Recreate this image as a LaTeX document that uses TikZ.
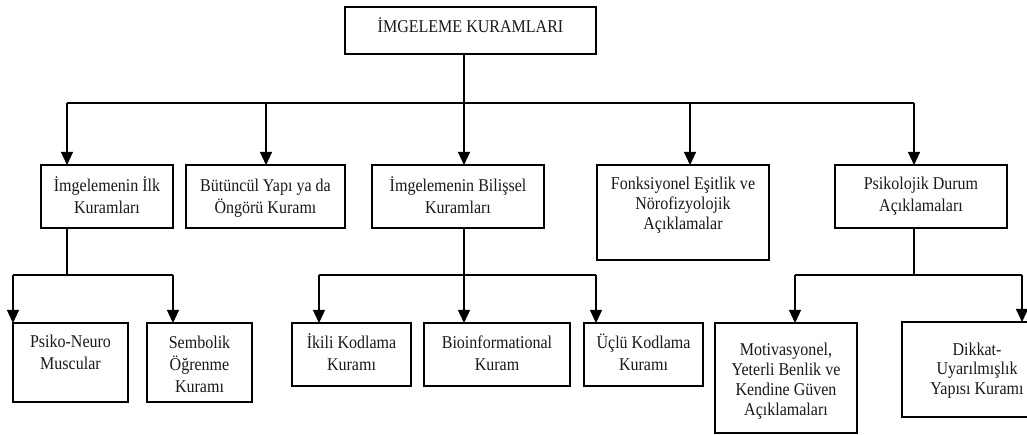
\documentclass[tikz,border=0pt]{standalone}
\usepackage{fontspec}
\setmainfont[FakeStretch=0.89]{Liberation Serif}
\usetikzlibrary{arrows.meta}
\newcommand{\bt}[5]{\parbox[c][#2pt][t]{#1pt}{\centering\fontsize{18}{#4}\selectfont\rule{0pt}{#3pt}#5}}
\tikzset{
  bx/.style={draw=black, line width=1.2pt, inner sep=0pt, outer sep=0pt, anchor=north west, text=black!90},
  ln/.style={draw=black, line width=1.2pt},
  arr/.style={ln, -{Triangle[width=12pt,length=13pt]}}
}
\begin{document}
\begin{tikzpicture}[x=1pt,y=-1pt]
\useasboundingbox (0,0) rectangle (1027,435);
\clip (0,0) rectangle (1027,435);
\fill[white] (0,0) rectangle (1027,435);
% boxes
\node[bx] (top) at (345,7) {\bt{251}{47}{26}{21.5}{İMGELEME KURAMLARI}};
\node[bx] (A) at (41,165) {\bt{132}{63}{27}{21.5}{İmgelemenin İlk\\Kuramları}};
\node[bx] (B) at (186,165) {\bt{159}{63}{27}{21.5}{Bütüncül Yapı ya da\\Öngörü Kuramı}};
\node[bx] (C) at (372,165) {\bt{172}{63}{27}{21.5}{İmgelemenin Bilişsel\\Kuramları}};
\node[bx] (D) at (597,165) {\bt{172}{95}{25}{20}{Fonksiyonel Eşitlik ve\\Nörofizyolojik\\Açıklamalar}};
\node[bx] (E) at (835,165) {\bt{172}{63}{25}{21.5}{Psikolojik Durum\\Açıklamaları}};
\node[bx] (F) at (13,323) {\bt{115}{79}{24}{22}{Psiko-Neuro\\Muscular}};
\node[bx] (G) at (147,323) {\bt{105}{79}{25}{22}{Sembolik\\Öğrenme\\Kuramı}};
\node[bx] (H) at (292,323) {\bt{119}{63}{25}{22}{İkili Kodlama\\Kuramı}};
\node[bx] (I) at (424,323) {\bt{146}{63}{25}{22}{Bioinformational\\Kuram}};
\node[bx] (J) at (584,323) {\bt{119}{63}{25}{22}{Üçlü Kodlama\\Kuramı}};
\node[bx] (K) at (715,323) {\bt{142}{110}{32}{20}{Motivasyonel,\\Yeterli Benlik ve\\Kendine Güven\\Açıklamaları}};
\node[bx] (L) at (902,322) {\bt{150}{95}{33}{19.5}{Dikkat-\\Uyarılmışlık\\Yapısı Kuramı}};
% level 1 bus
\coordinate (bA) at (67,103);
\coordinate (bB) at (266,103);
\coordinate (bC) at (464,103);
\coordinate (bD) at (690,103);
\coordinate (bE) at (914,103);
\draw[ln] (bA) -- (bE);
\draw[ln] (top.south -| bC) -- (bC);
\draw[arr] (bA) -- (bA |- A.north);
\draw[arr] (bB) -- (bB |- B.north);
\draw[arr] (bC) -- (bC |- C.north);
\draw[arr] (bD) -- (bD |- D.north);
\draw[arr] (bE) -- (bE |- E.north);
% under A
\coordinate (jA) at (67,275);
\coordinate (bF) at (13,275);
\coordinate (bG) at (173,275);
\draw[ln] (A.south -| jA) -- (jA);
\draw[ln] (bF) -- (bG);
\draw[arr] (bF) -- (bF |- F.north);
\draw[arr] (bG) -- (bG |- G.north);
% under C
\coordinate (bH) at (319,275);
\coordinate (bI) at (464,275);
\coordinate (bJ) at (596,275);
\draw[ln] (bH) -- (bJ);
\draw[arr] (C.south -| bI) -- (bI |- I.north);
\draw[arr] (bH) -- (bH |- H.north);
\draw[arr] (bJ) -- (bJ |- J.north);
% under E
\coordinate (jE) at (914,275);
\coordinate (bK) at (795,275);
\coordinate (bL) at (1022,275);
\draw[ln] (E.south -| jE) -- (jE);
\draw[ln] (bK) -- (bL);
\draw[arr] (bK) -- (bK |- K.north);
\draw[arr] (bL) -- (bL |- L.north);
\end{tikzpicture}
\end{document}
